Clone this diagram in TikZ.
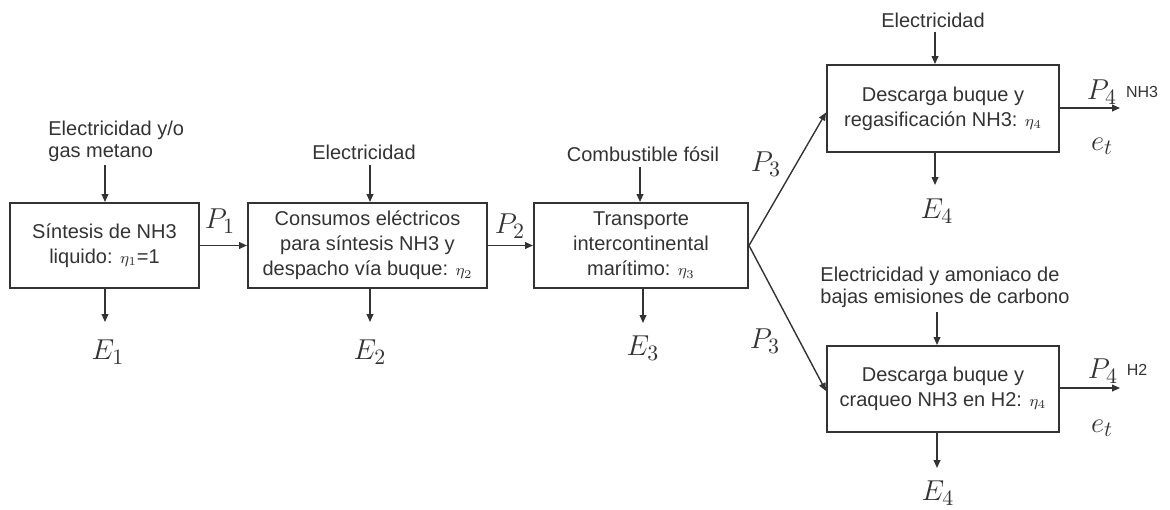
\documentclass[tikz,border=0pt]{standalone}
\usepackage{fontspec}
\setmainfont{Liberation Sans}
\usetikzlibrary{arrows.meta}
\definecolor{ink}{HTML}{333333}
\newcommand{\effsub}[1]{{\fontsize{8.5}{8.5}\selectfont$\eta_{#1}$}}
\begin{document}
\begin{tikzpicture}[x=0.5pt,y=-0.5pt,
  every node/.style={text=ink},
  blk/.style={draw=ink,line width=1pt,align=center,inner sep=0pt,font=\fontsize{10}{12.5}\selectfont},
  lbl/.style={font=\fontsize{10}{11}\selectfont,inner sep=0pt},
  lblL/.style={lbl,align=left},
  mth/.style={font=\fontsize{15}{15}\selectfont,inner sep=0pt},
  sml/.style={font=\fontsize{8}{8}\selectfont,inner sep=0pt},
  flow/.style={draw=ink,line width=0.7pt,-{Triangle[length=4pt,width=3.4pt]}}]
\path[use as bounding box] (0,0) rectangle (1170,509);
% boxes
\node[blk,minimum width=94.5pt,minimum height=42.5pt] (b1) at (104.5,245.5) {S\'intesis de NH3\\liquido: \effsub1=1};
\node[blk,minimum width=119.5pt,minimum height=42.5pt] (b2) at (367.5,245.5) {Consumos el\'ectricos\\para s\'intesis NH3 y\\despacho v\'ia buque: \effsub2};
\node[blk,minimum width=107pt,minimum height=42.5pt] (b3) at (641,245.5) {Transporte\\intercontinental\\mar\'itimo: \effsub3};
\node[blk,minimum width=116pt,minimum height=43.5pt] (b4) at (943,108.5) {Descarga buque y\\regasificaci\'on NH3: \effsub4};
\node[blk,minimum width=116pt,minimum height=43pt] (b5) at (943,389) {Descarga buque y\\craqueo NH3 en H2: \effsub4};
% input labels
\node[lblL,anchor=west] (i1) at (48,141) {Electricidad y/o\\gas metano};
\node[lbl] (i2) at (364,152) {Electricidad};
\node[lbl] (i3) at (643,154) {Combustible f\'osil};
\node[lbl] (i4) at (933,20) {Electricidad};
\node[lblL,anchor=west] (i5) at (820,287.5) {Electricidad y amoniaco de\\bajas emisiones de carbono};
% input arrow starts
\coordinate (s1) at (105,165);
\coordinate (s2) at (370,165);
\coordinate (s3) at (640,167);
\coordinate (s4) at (935,32);
\coordinate (s5) at (937,312);
\draw[flow] (s1) -- (s1 |- b1.north);
\draw[flow] (s2) -- (s2 |- b2.north);
\draw[flow] (s3) -- (s3 |- b3.north);
\draw[flow] (s4) -- (s4 |- b4.north);
\draw[flow] (s5) -- (s5 |- b5.north);
% emissions
\coordinate (e1) at (105,322);
\coordinate (e2) at (370,322);
\coordinate (e3) at (643,323);
\coordinate (e4) at (935,185);
\coordinate (e5) at (937,468);
\draw[flow] (e1 |- b1.south) -- (e1);
\draw[flow] (e2 |- b2.south) -- (e2);
\draw[flow] (e3 |- b3.south) -- (e3);
\draw[flow] (e4 |- b4.south) -- (e4);
\draw[flow] (e5 |- b5.south) -- (e5);
\node[mth] (E1) at (108,352) {$E_1$};
\node[mth] (E2) at (370,352) {$E_2$};
\node[mth] (E3) at (643,348) {$E_3$};
\node[mth] (E4a) at (937,211) {$E_4$};
\node[mth] (E4b) at (938,493) {$E_4$};
% main flow
\draw[flow] (b1.east) -- (b2.west);
\draw[flow] (b2.east) -- (b3.west);
\draw[flow] (b3.east) -- ([yshift=-2pt]b4.west);
\draw[flow] (b3.east) -- ([yshift=-1pt]b5.west);
\node[mth] (P1) at (220,221) {$P_1$};
\node[mth] (P2) at (510,226) {$P_2$};
\node[mth] (P3a) at (766,164) {$P_3$};
\node[mth] (P3b) at (765,341) {$P_3$};
% outputs
\coordinate (o4) at (1120,108);
\coordinate (o5) at (1120,388);
\draw[flow] (b4.east |- o4) -- (o4);
\draw[flow] (b5.east |- o5) -- (o5);
\node[mth] (P4a) at (1102,92) {$P_4$};
\node[sml] (n4a) at (1142,92) {NH3};
\node[mth] (et4) at (1102,146) {$e_t$};
\node[mth] (P4b) at (1103,371) {$P_4$};
\node[sml] (n4b) at (1137,370) {H2};
\node[mth] (et5) at (1102,428) {$e_t$};
\end{tikzpicture}
\end{document}
